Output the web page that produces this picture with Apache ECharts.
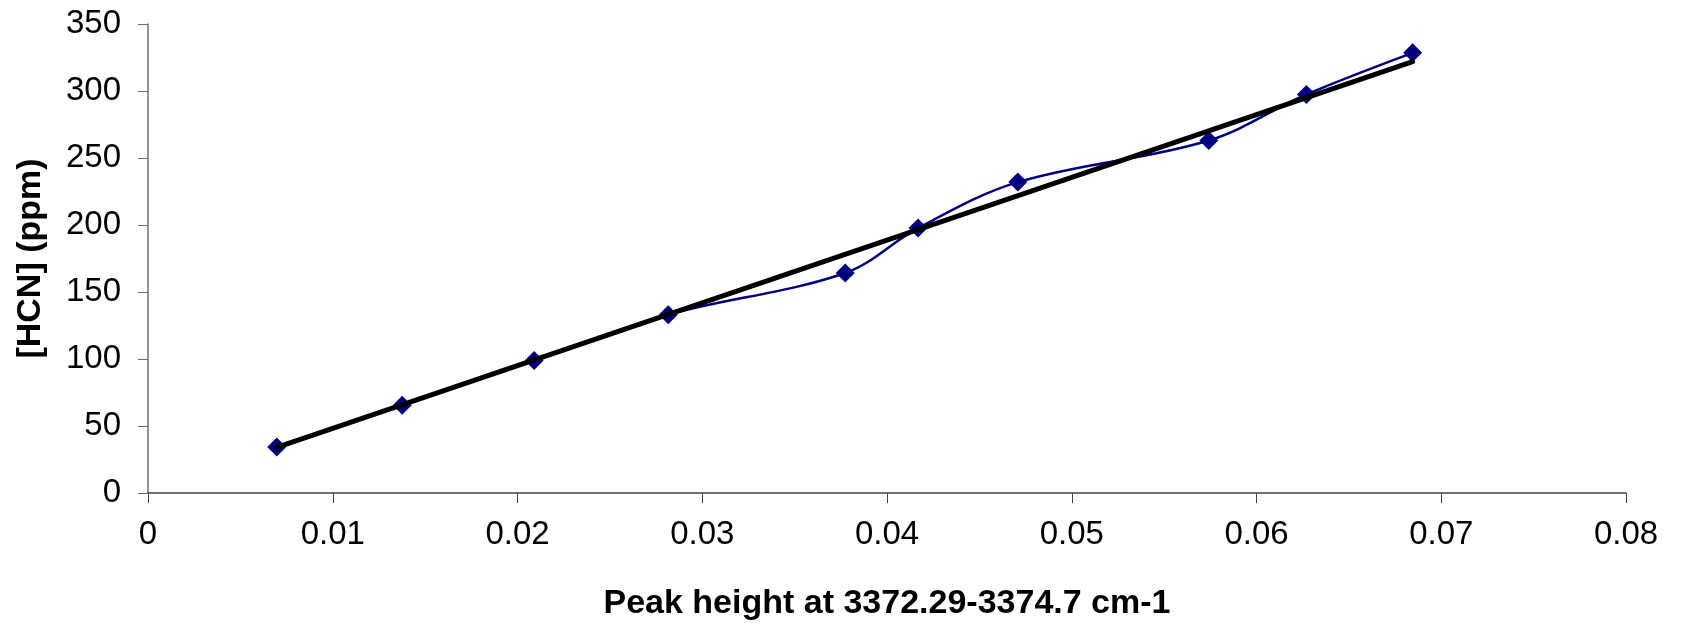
<!DOCTYPE html>
<html>
<head>
<meta charset="utf-8">
<script src="https://cdn.jsdelivr.net/npm/echarts@6/dist/echarts.min.js"></script>
<style>
  html, body { margin: 0; padding: 0; background: #fff; }
  #hcn-chart { width: 1681px; height: 626px; }
</style>
</head>
<body>
<div id="hcn-chart"></div>
<script>
// measured points (peak height vs HCN ppm)
var peakHeight = [0.00697, 0.01376, 0.0209, 0.02816, 0.03774, 0.04168, 0.04708, 0.05742, 0.0627, 0.06845];
var hcnPpm = [34.3, 65.4, 98.9, 133.1, 164.2, 197.7, 232.0, 263.1, 297.4, 328.5];

// linear trendline end points
var trendX = [0.00697, 0.06845];
var trendY = [34, 322];

var xTicks = [0, 0.01, 0.02, 0.03, 0.04, 0.05, 0.06, 0.07, 0.08];
var yTicks = [0, 50, 100, 150, 200, 250, 300, 350];

var pts = peakHeight.map(function (x, i) { return [x, hcnPpm[i]]; });
var trend = trendX.map(function (x, i) { return [x, trendY[i]]; });

var chart = echarts.init(document.getElementById("hcn-chart"));
var font = "Liberation Sans, Arial, sans-serif";

var option = {
  backgroundColor: "#fff",
  animation: false,
  grid: {
    left: 148,
    right: 55,
    top: 24,
    bottom: 132
  },
  xAxis: {
    type: "value",
    min: xTicks[0],
    max: xTicks[xTicks.length - 1],
    interval: 0.01,
    name: "Peak height at 3372.29-3374.7 cm-1",
    nameLocation: "middle",
    nameGap: 94,
    nameTextStyle: {
      fontFamily: font,
      fontWeight: "bold",
      fontSize: 34,
      color: "#000"
    },
    axisLine: { lineStyle: { color: "#404040", width: 1.5 } },
    axisTick: { show: true, inside: false, length: 10, lineStyle: { color: "#404040" } },
    splitLine: { show: false },
    axisLabel: {
      margin: 25,
      fontFamily: font,
      fontSize: 33,
      color: "#000",
      formatter: function (v) { return String(+v.toFixed(2)); }
    }
  },
  yAxis: {
    type: "value",
    min: yTicks[0],
    max: yTicks[yTicks.length - 1],
    interval: 50,
    name: "[HCN] (ppm)",
    nameLocation: "middle",
    nameGap: 100,
    nameTextStyle: {
      fontFamily: font,
      fontWeight: "bold",
      fontSize: 34,
      color: "#000"
    },
    axisLine: { show: true, lineStyle: { color: "#6e6e6e", width: 1.5 } },
    axisTick: { show: true, inside: false, length: 10, lineStyle: { color: "#6e6e6e" } },
    splitLine: { show: false },
    axisLabel: {
      margin: 27,
      fontFamily: font,
      fontSize: 33,
      color: "#000"
    }
  },
  series: [
    {
      name: "HCN",
      type: "line",
      data: pts,
      smooth: 0.35,
      symbol: "diamond",
      symbolSize: 19,
      itemStyle: { color: "#000080" },
      lineStyle: { color: "#000080", width: 2.5 },
      z: 2
    },
    {
      name: "Linear fit",
      type: "line",
      data: trend,
      symbol: "none",
      lineStyle: { color: "#000", width: 5, cap: "round" },
      z: 3
    }
  ]
};

chart.setOption(option);
</script>
</body>
</html>
